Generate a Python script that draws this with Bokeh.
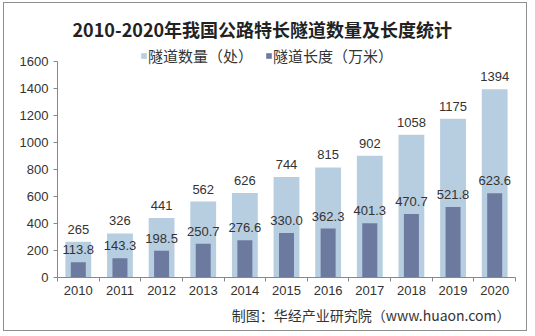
import numpy as np
from bokeh.plotting import figure
from bokeh.models import (ColumnDataSource, Range1d, FixedTicker, Title, Legend, LegendItem)
from bokeh.core.properties import value
from bokeh.embed import file_html
from bokeh.resources import INLINE

years = ["2010", "2011", "2012", "2013", "2014", "2015", "2016", "2017", "2018", "2019", "2020"]
tunnel_count = [265, 326, 441, 562, 626, 744, 815, 902, 1058, 1175, 1394]
tunnel_length = [113.8, 143.3, 198.5, 250.7, 276.6, 330.0, 362.3, 401.3, 470.7, 521.8, 623.6]
y_ticks = [0, 200, 400, 600, 800, 1000, 1200, 1400, 1600]

title_text = "2010-2020年我国公路特长隧道数量及长度统计"
series_names = ["隧道数量（处）", "隧道长度（万米）"]
source_text = "制图：华经产业研究院（www.huaon.com）"

LIGHT = "#b7cde0"
DARK = "#6c7aa0"
FONT = "Liberation Sans"
CJK = "Noto Sans CJK SC"

xc = np.arange(len(years)) + 0.5
src = ColumnDataSource(dict(
    x=xc, count=tunnel_count, length=tunnel_length,
    count_lbl=[str(v) for v in tunnel_count],
    length_lbl=[f"{v:.1f}" for v in tunnel_length],
))

p = figure(width=524, height=329, output_backend="svg", toolbar_location=None,
           x_range=Range1d(0, len(years)), y_range=Range1d(0, 1733),
           min_border_left=53, min_border_right=13, min_border_top=40, min_border_bottom=55,
           margin=(2, 0, 0, 3))
p.styles = {"border": "1px solid #8f8f8f"}
p.title.text = title_text
p.title.align = "left"
p.title.vertical_align = "top"
p.title.offset = 15
p.title.text_font = CJK
p.title.text_font_style = "bold"
p.title.text_font_size = "18px"
p.title.text_line_height = 1.0
p.title.text_color = "#222222"
p.title.standoff = 0
p.outline_line_color = None
p.background_fill_color = "white"
p.border_fill_color = "white"
p.xgrid.grid_line_color = None
p.ygrid.grid_line_color = None

r1 = p.vbar(x="x", top="count", width=0.62, source=src, fill_color=LIGHT, line_color=None)
r2 = p.vbar(x="x", top="length", width=0.36, source=src, fill_color=DARK, line_color=None)

p.text(x="x", y="count", text="count_lbl", source=src, text_align="center",
       text_baseline="bottom", y_offset=-8, text_font=value(FONT),
       text_font_size="13px", text_color="#333333")
p.text(x="x", y="length", text="length_lbl", source=src, text_align="center",
       text_baseline="bottom", y_offset=-8, text_font=value(FONT),
       text_font_size="13px", text_color="#333333")

# y axis
ya = p.yaxis[0]
ya.ticker = FixedTicker(ticks=y_ticks)
ya.bounds = (0, 1600)
ya.axis_line_color = "#888888"
ya.major_tick_line_color = "#888888"
ya.major_tick_out = 4
ya.major_tick_in = 0
ya.minor_tick_line_color = None
ya.major_label_text_font = FONT
ya.major_label_text_font_size = "13px"
ya.major_label_text_color = "#333333"
ya.major_label_standoff = 5

# x axis
xa = p.xaxis[0]
xa.ticker = FixedTicker(ticks=list(xc), minor_ticks=list(range(len(years) + 1)))
xa.major_label_overrides = {float(c): y for c, y in zip(xc, years)}
xa.axis_line_color = "#888888"
xa.major_tick_line_color = None
xa.minor_tick_line_color = "#888888"
xa.minor_tick_out = 4
xa.minor_tick_in = 0
xa.major_label_text_font = FONT
xa.major_label_text_font_size = "13px"
xa.major_label_text_color = "#333333"
xa.major_label_standoff = 2

legend = Legend(items=[LegendItem(label=series_names[0], renderers=[r1]),
                       LegendItem(label=series_names[1], renderers=[r2])],
                orientation="horizontal", location=(83, 211),
                padding=0, margin=0, spacing=12, border_line_color=None,
                background_fill_alpha=0, glyph_width=7, glyph_height=7,
                label_standoff=1, label_text_font=CJK, label_text_font_size="15px",
                label_text_color="#333333", label_height=16)
p.add_layout(legend, "center")

src_title = Title(text=source_text, align="right", offset=5, standoff=10,
                  text_font=CJK, text_font_style="normal", text_font_size="14px",
                  text_color="#333333")
p.add_layout(src_title, "below")

open("out.html", "w").write(file_html(p, INLINE))
